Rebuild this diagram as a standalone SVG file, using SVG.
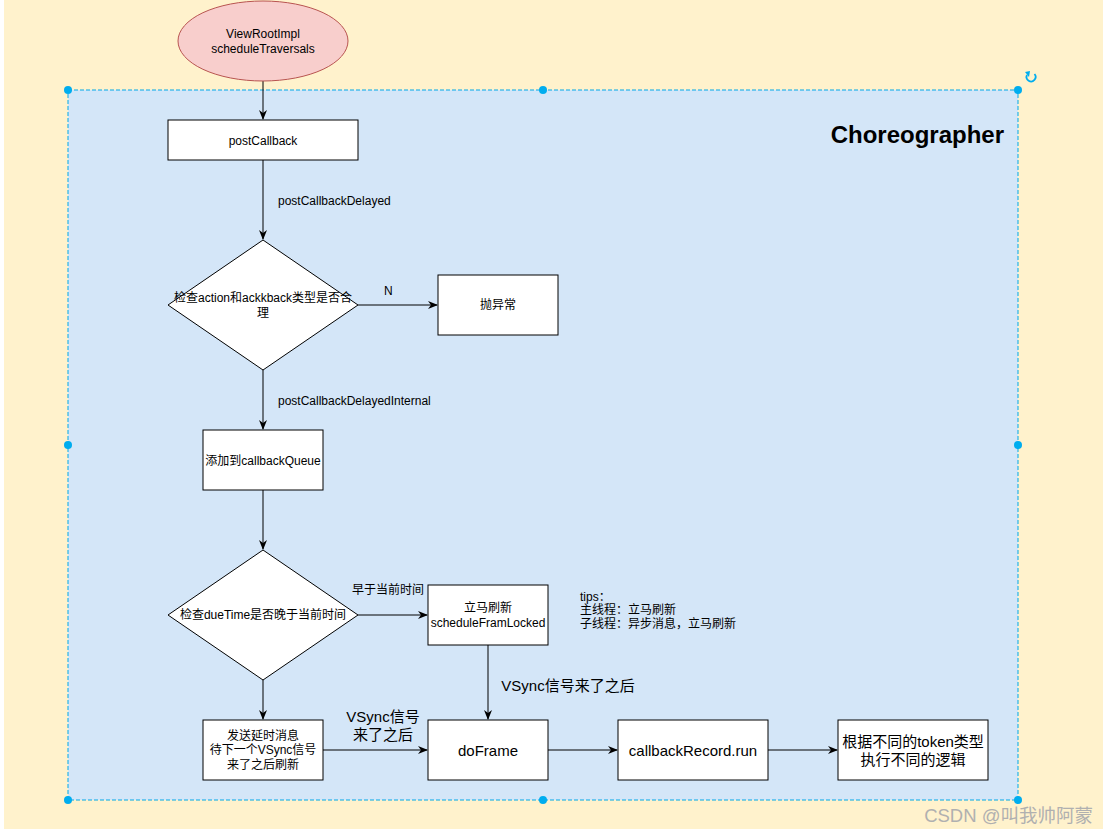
<svg xmlns="http://www.w3.org/2000/svg" width="1109" height="835" viewBox="0 0 1109 835">
<style>
.box{fill:#fff;stroke:#000;stroke-width:1}
.t{font-family:"Liberation Sans","Noto Sans CJK SC",sans-serif;font-size:12px;fill:#000;text-anchor:middle}
.ts{font-family:"Liberation Sans","Noto Sans CJK SC",sans-serif;font-size:12px;fill:#000}
.tl{font-family:"Liberation Sans","Noto Sans CJK SC",sans-serif;font-size:15px;fill:#000;text-anchor:middle}
.c{fill:none;stroke:#000;stroke-width:1}
.h{fill:#00adef}
</style>
<defs>
<marker id="a" viewBox="0 0 10 10" refX="9" refY="5" markerWidth="10" markerHeight="10" markerUnits="userSpaceOnUse" orient="auto">
<path d="M0,1 L10,5 L0,9 L3,5 Z" fill="#000"/>
</marker>
</defs>
<rect x="4" y="0" width="1099" height="829" fill="#fff2cc"/>
<g id="container">
<rect x="68" y="90" width="950" height="710" fill="#d4e6f8" stroke="#00a8e8" stroke-width="1" stroke-dasharray="4,2"/>
<text x="1004" y="143" font-family="Liberation Sans,sans-serif" font-size="24" font-weight="bold" text-anchor="end">Choreographer</text>
</g>
<g id="handles">
<circle class="h" cx="68" cy="90" r="4"/><circle class="h" cx="543" cy="90" r="4"/><circle class="h" cx="1018" cy="90" r="4"/>
<circle class="h" cx="68" cy="445" r="4"/><circle class="h" cx="1018" cy="445" r="4"/>
<circle class="h" cx="68" cy="800" r="4"/><circle class="h" cx="543" cy="800" r="4"/><circle class="h" cx="1018" cy="800" r="4"/>
<path d="M1034.5,74 A4.5,4.5 0 1 1 1027,75" fill="none" stroke="#00adef" stroke-width="1.8"/>
<path d="M1025,72 L1029,77 L1030,71 Z" fill="#00adef"/>
</g>
<g id="connectors">
<path class="c" d="M263,81 V119" marker-end="url(#a)"/>
<path class="c" d="M263,160 V239" marker-end="url(#a)"/>
<path class="c" d="M358,305 H437" marker-end="url(#a)"/>
<path class="c" d="M263,370 V429" marker-end="url(#a)"/>
<path class="c" d="M263,490 V549" marker-end="url(#a)"/>
<path class="c" d="M358,615 H427" marker-end="url(#a)"/>
<path class="c" d="M263,680 V719" marker-end="url(#a)"/>
<path class="c" d="M488,645 V719" marker-end="url(#a)"/>
<path class="c" d="M323,750 H427" marker-end="url(#a)"/>
<path class="c" d="M548,750 H617" marker-end="url(#a)"/>
<path class="c" d="M768,750 H837" marker-end="url(#a)"/>
<text class="ts" x="278" y="205">postCallbackDelayed</text>
<text class="ts" x="384" y="295">N</text>
<text class="ts" x="278" y="405">postCallbackDelayedInternal</text>
<text class="ts" x="352" y="594">早于当前时间</text>
<text class="tl" x="568" y="691">VSync信号来了之后</text>
<text class="tl" x="383" y="722">VSync信号</text>
<text class="tl" x="383" y="740">来了之后</text>
</g>
<g id="start">
<ellipse cx="263" cy="41" rx="85" ry="40" fill="#f8cecc" stroke="#b85450"/>
<text class="t" x="263" y="38">ViewRootImpl</text>
<text class="t" x="263" y="53">scheduleTraversals</text>
</g>
<g id="postCallback">
<rect class="box" x="168" y="120" width="190" height="40"/>
<text class="t" x="263" y="145">postCallback</text>
</g>
<g id="check1">
<path class="box" d="M263,240 L358,305 L263,370 L168,305 Z"/>
<text class="t" x="263" y="302">检查action和ackkback类型是否合</text>
<text class="t" x="263" y="317">理</text>
</g>
<g id="throw">
<rect class="box" x="438" y="275" width="120" height="60"/>
<text class="t" x="498" y="309">抛异常</text>
</g>
<g id="addQueue">
<rect class="box" x="203" y="430" width="120" height="60"/>
<text class="t" x="263" y="465">添加到callbackQueue</text>
</g>
<g id="check2">
<path class="box" d="M263,550 L358,615 L263,680 L168,615 Z"/>
<text class="t" x="263" y="619">检查dueTime是否晚于当前时间</text>
</g>
<g id="immediate">
<rect class="box" x="428" y="585" width="120" height="60"/>
<text class="t" x="488" y="612">立马刷新</text>
<text class="t" x="488" y="627">scheduleFramLocked</text>
</g>
<g id="tips">
<text class="ts" x="580" y="601">tips：</text>
<text class="ts" x="580" y="614">主线程：立马刷新</text>
<text class="ts" x="580" y="628">子线程：异步消息，立马刷新</text>
</g>
<g id="delayed">
<rect class="box" x="203" y="720" width="120" height="60"/>
<text class="t" x="263" y="740">发送延时消息</text>
<text class="t" x="263" y="754">待下一个VSync信号</text>
<text class="t" x="263" y="769">来了之后刷新</text>
</g>
<g id="doFrame">
<rect class="box" x="428" y="720" width="120" height="60"/>
<text class="tl" x="488" y="756">doFrame</text>
</g>
<g id="callbackRecord">
<rect class="box" x="618" y="720" width="150" height="60"/>
<text class="tl" x="693" y="756">callbackRecord.run</text>
</g>
<g id="token">
<rect class="box" x="838" y="720" width="150" height="60"/>
<text class="tl" x="913" y="747">根据不同的token类型</text>
<text class="tl" x="913" y="765">执行不同的逻辑</text>
</g>
<text x="1093" y="822" font-family="Liberation Sans,'Noto Sans CJK SC',sans-serif" font-size="18.5" fill="#b0b0b0" text-anchor="end">CSDN @叫我帅阿蒙</text>
</svg>
